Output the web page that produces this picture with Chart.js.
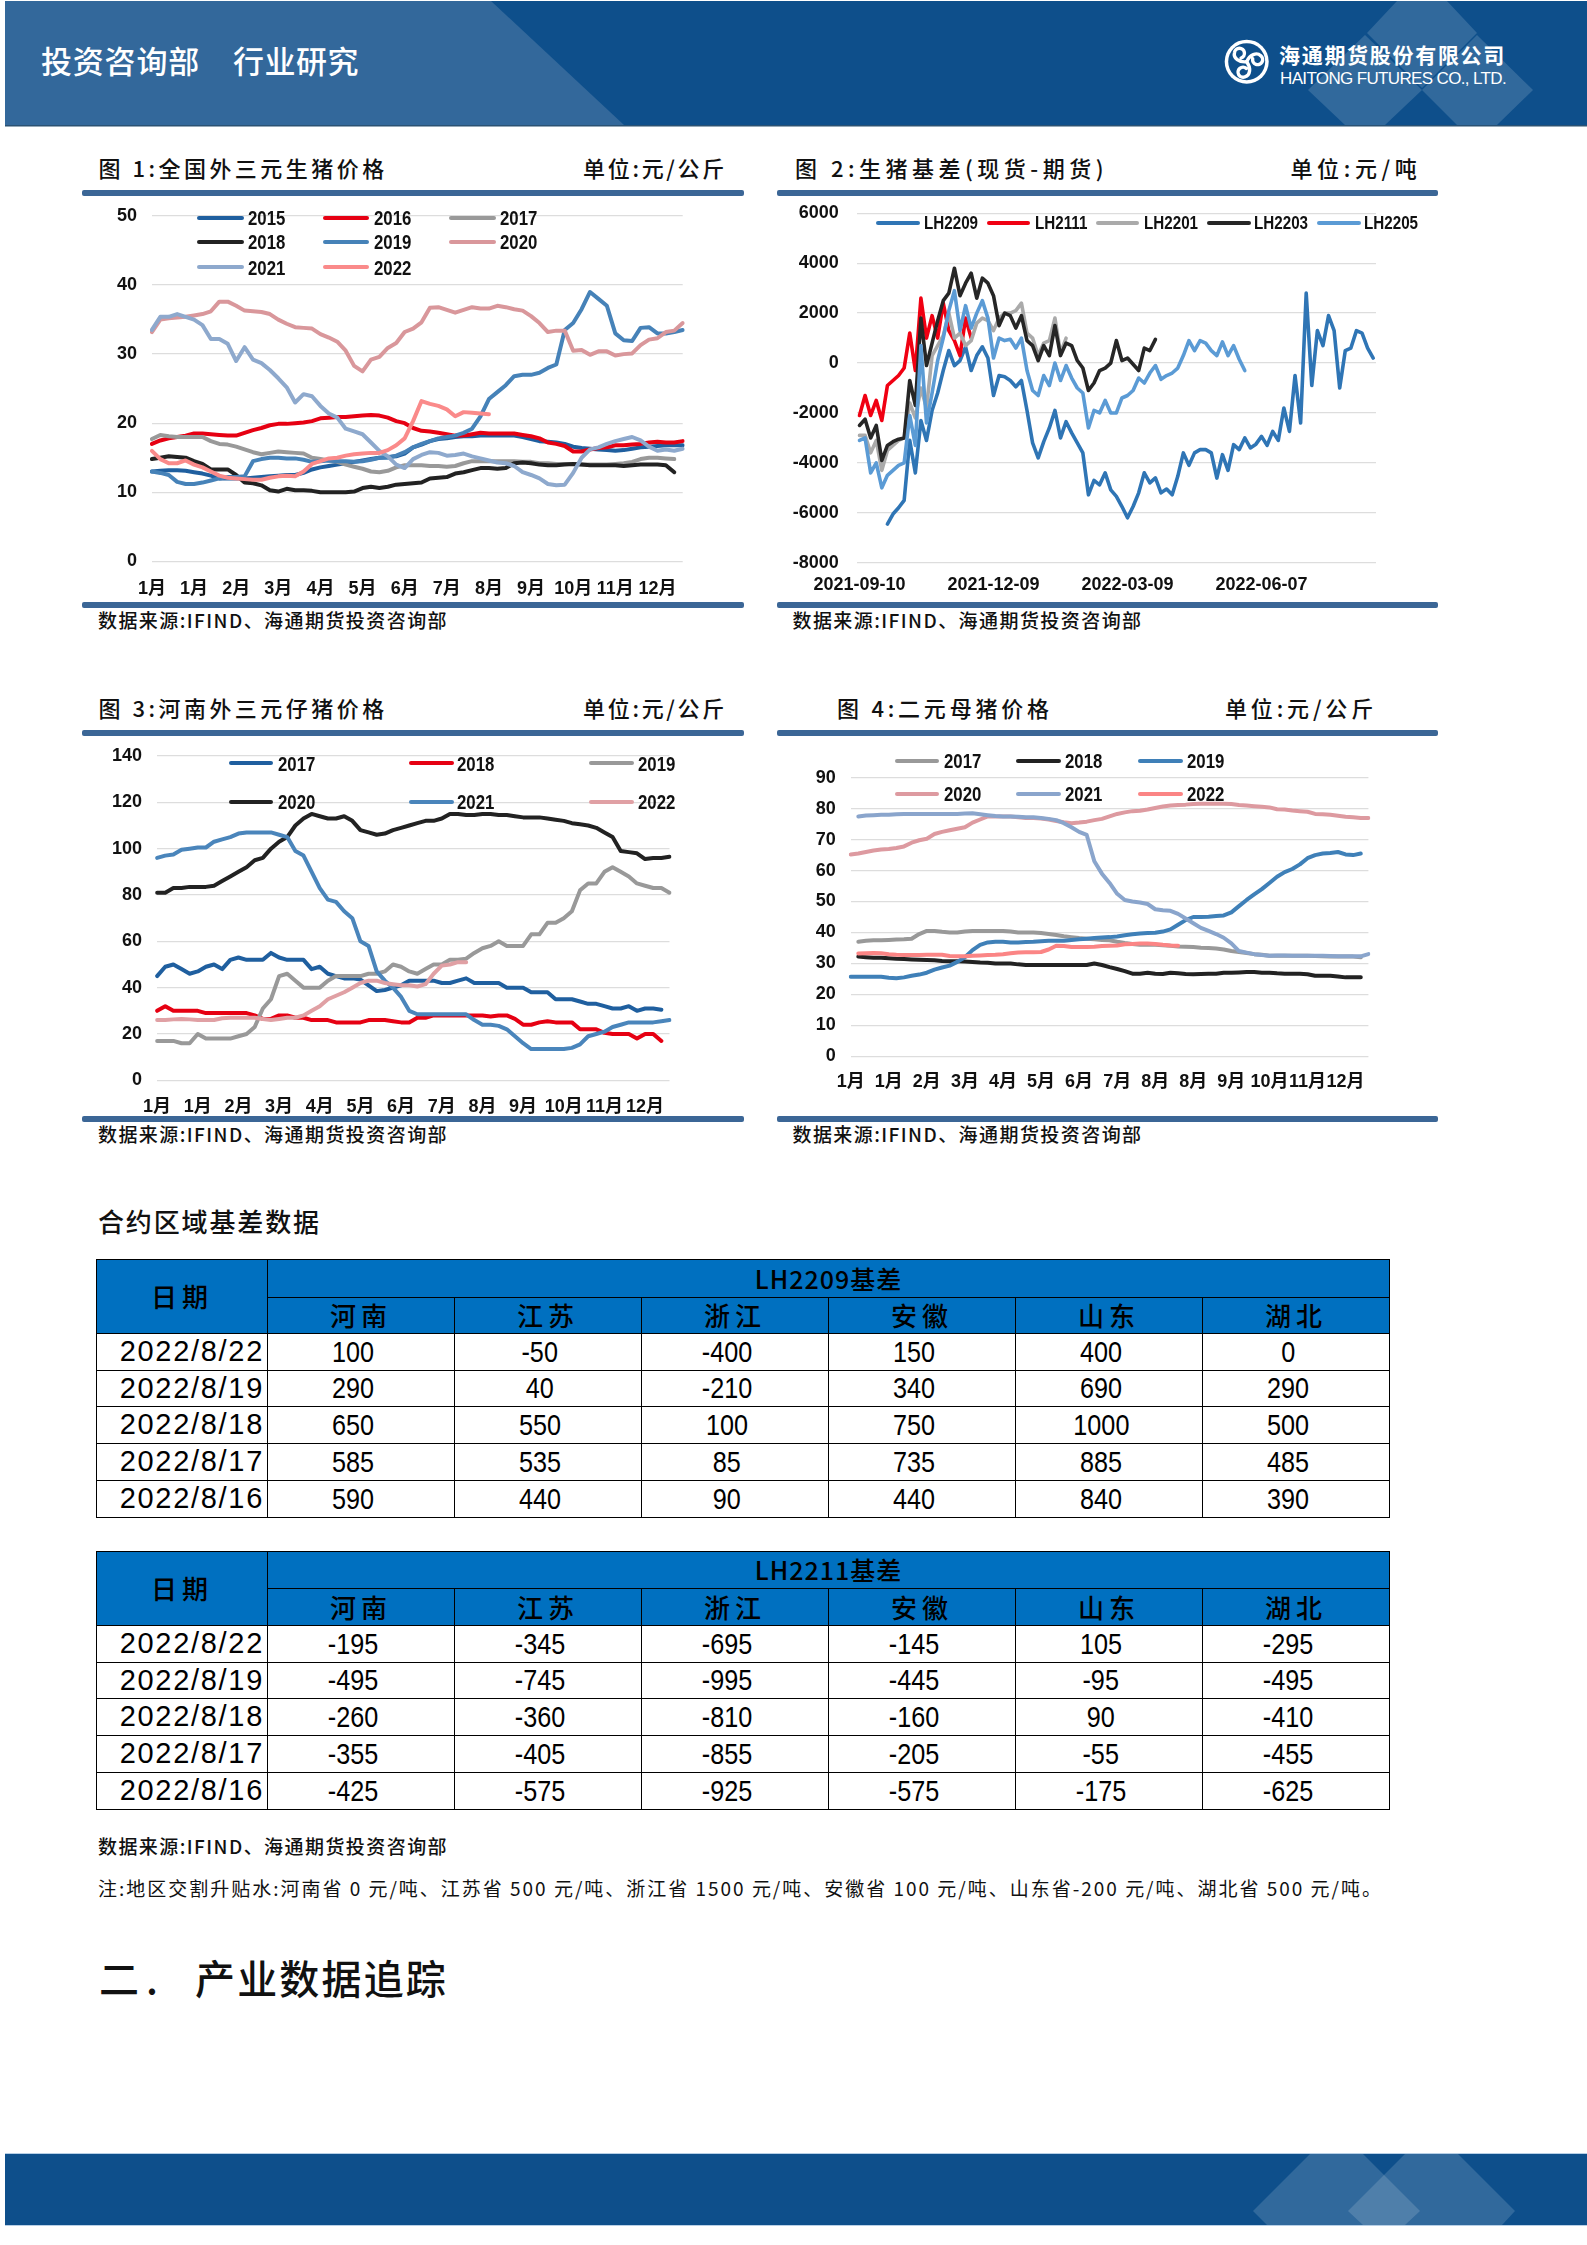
<!DOCTYPE html>
<html>
<head>
<meta charset="utf-8">
<title>行业研究</title>
<script src="https://cdn.jsdelivr.net/npm/chart.js@4"></script>
<style>
html, body { margin: 0; padding: 0; background: #fff; }
#page { position: relative; width: 1587px; height: 2245px; overflow: hidden; font-family: "Noto Sans CJK SC", sans-serif; color: #111; }
#page span.t { position: absolute; white-space: pre; }
#page canvas { position: absolute; }
svg.bg { position: absolute; left: 0; top: 0; }
table.basis { position: absolute; left: 96px; width: 1292px; border-collapse: collapse; table-layout: fixed; color: #000; }
table.basis td { border: 1.5px solid #000; padding: 0; text-align: center; box-sizing: border-box; white-space: nowrap; overflow: hidden; line-height: 1; }
table.basis td.head { background: #0070c0; font-size: 26px; letter-spacing: 5px; font-weight: 500; }
table.basis td.title { background: #0070c0; font-size: 25px; letter-spacing: 1px; font-weight: 500; }
table.basis td.date { font-family: "Liberation Sans", sans-serif; font-size: 29px; letter-spacing: 1.7px; text-align: right; padding: 0 3px 0 0; }
table.basis td.num { font-family: "Liberation Sans", sans-serif; font-size: 30px; padding: 0 16px 0 0; }
table.basis td.num span { display: inline-block; transform: scaleX(0.84); }
</style>
</head>
<body>
<div id="page"></div>
<script>
// ---------- chart 1: 全国外三元生猪价格
const months13 = ['1月','1月','2月','3月','4月','5月','6月','7月','8月','9月','10月','11月','12月'];
const hog2015 = [13.0,13.1,13.2,13.2,13.1,12.9,12.7,12.4,12.0,12.0,
  12.0,12.0,12.1,12.2,12.3,12.4,12.5,12.5,12.8,13.3,
  13.6,13.8,14.0,14.2,14.4,14.6,14.8,15.0,15.1,15.2,
  15.6,16.5,16.9,17.4,17.7,17.8,18.0,18.1,18.1,18.2,
  18.2,18.2,18.2,18.2,18.0,17.7,17.4,17.3,17.2,17.0,
  16.6,16.4,16.3,16.2,16.1,16.0,16.1,16.3,16.5,16.6,
  16.7,16.8,16.8,16.8];
const hog2016 = [17,17.5,17.8,18,18.2,18.5,18.5,18.4,18.3,18.2,
  18.2,18.6,19,19.3,19.7,19.9,19.9,20,20.1,20.3,
  20.7,20.8,20.9,20.9,21,21.1,21.2,21.1,20.8,20.3,
  20,19.3,18.9,18.8,18.6,18.4,18.2,18.2,18.4,18.6,
  18.5,18.5,18.5,18.5,18.3,18.1,17.8,17.2,17,16.7,
  15.9,15.9,16.2,16.4,16.5,16.8,16.8,16.9,17,17.2,
  17.3,17.2,17.2,17.4];
const hog2017 = [17.7,18.3,18.1,18,18,18,18,17.4,17,16.9,
  16.6,16.2,15.8,15.5,15.7,15.9,15.8,15.7,15.6,15,
  14.8,14.6,14.4,14,13.7,13.4,13,12.9,13.1,13.6,
  13.9,13.9,13.9,13.8,13.8,13.7,13.8,14.2,14.5,14.5,
  14.5,14.5,14.5,14.5,14.4,14.4,14.2,14.2,14.1,14.1,
  14.1,14,14,14,14,14.1,14.2,14.4,14.8,15,
  15,14.9,14.8];
const hog2018 = [14.8,15,15.2,15.1,15,14.5,14.1,13.3,13.3,13.3,
  12.5,11.4,11.3,11,10.3,10.1,10.5,10.3,10.3,10.2,
  10,10,10,10,10.1,10.6,10.8,10.6,10.8,11.1,
  11.2,11.3,11.4,12,12.1,12.2,12.7,12.9,13.2,13.5,
  13.5,13.4,13.5,14.2,14.3,14.2,14,13.9,13.9,14,
  14.1,14,13.9,13.9,13.9,13.9,13.8,13.9,14,14,
  14,13.9,12.9];
const hog2019 = [13,12.8,12.5,11.5,11.2,11.2,11.4,11.7,12,12.2,
  12.2,12.3,14.5,14.8,15,15,14.9,14.9,14.7,14.4,
  14.5,14.6,14.5,14.5,14.4,14.5,14.7,15,15,15.3,
  15.8,16.5,17,17.4,17.8,18,18.2,18.6,19.2,21,
  23.5,24.5,25.5,26.8,27,27,27.3,28,28.5,33.5,
  34.5,36.5,39,38,37,33,32,31.9,33.8,33.9,
  33,33,33.2,33.5];
const hog2020 = [33.2,35,35.2,35.3,35.4,35.6,35.8,36.2,37.6,37.6,
  37,36.3,36.2,36.1,35.8,35,34.4,33.9,33.8,33.7,
  32.9,32.4,31.8,30.5,28.3,27.5,29.2,29.6,30.9,31.6,
  33.2,33.7,34.6,36.7,36.8,36.4,36,36.4,36.8,36.6,
  36.6,37,36.8,36.5,36.3,35.5,34.5,33.2,33.4,33.4,
  30.5,30.6,29.9,30.4,30.4,29.8,30,30.1,31.3,32.1,
  32.3,33.2,33.4,34.5];
const hog2021 = [33.5,35.4,35.4,35.8,35.4,35,34.2,32.2,32.2,31.5,
  29,31,29.2,28.7,27.7,26.5,25.2,23,24.2,23.9,
  22.5,21.4,20.8,19.2,18.8,18.4,17.2,16,15.2,14,
  13.5,14.8,15.4,15.8,15.7,15.3,15.4,15.6,15.2,14.9,
  14.6,14.3,14.2,13.8,12.9,12.5,12,11.2,11,11.1,
  12.8,15,16.2,16.5,17,17.4,17.7,18,17.5,16.6,
  16,16.2,16,16.3];
const hog2022 = [16,14.8,14.2,14.2,14.6,14,13.6,13,12.4,12.1,
  12,11.9,11.8,11.8,12.1,12.3,12.4,12.3,13,14.1,
  14.5,14.9,15,15.3,15.5,15.6,15.7,15.7,16.1,16.8,
  17.8,20.3,23.2,22.8,22.5,22,21,21.6,21.5,21.4,
  21.3];

// ---------- chart 2: 生猪基差
const basisDates = ['2021-09-10','2021-12-09','2022-03-09','2022-06-07'];
const lh2209 = [null,null,null,null,null,-6450,-6050,-5800,-5500,-3100,
  -4400,-2300,-3100,-1900,-1200,-300,500,-100,100,650,
  -300,300,650,200,-1300,-500,-550,-700,-950,-700,
  -1900,-3200,-3800,-3150,-2600,-1900,-3000,-2350,-2800,-3200,
  -3600,-5280,-4700,-4880,-4400,-5080,-5340,-5750,-6200,-5750,
  -5200,-4400,-4800,-4600,-5200,-5050,-5280,-4540,-3600,-4100,
  -3600,-3470,-3470,-3600,-4610,-3670,-4300,-3270,-3470,-3000,
  -3400,-3250,-2940,-3300,-2740,-3100,-1800,-2740,-500,-2400,
  2800,-900,1300,700,1900,1300,-1000,500,600,1300,
  1200,600,200];
const lh2111 = [-2100,-1300,-2100,-1500,-2300,-900,-700,-500,-200,1200,
  -300,2600,1000,1900,1000,2400,1300,900,300,1800,1000];
const lh2201 = [-2900,-2900,-3600,-3100,-4300,-3500,-3300,-3100,-3000,-1600,
  -2200,-1000,-1800,300,700,1100,2000,1000,1200,700,
  900,1600,1800,1700,1300,1800,2000,2000,2100,2400,
  1200,1000,300,800,900,1800,400,1000];
const lh2203 = [-2500,-2250,-3000,-2500,-3900,-3300,-3150,-3050,-3000,-700,
  -1700,1800,-100,800,1700,2500,2800,3800,2700,3200,
  3600,2600,3400,3200,2700,1500,2000,1900,1400,1900,
  900,700,100,700,300,1500,300,800,700,100,
  -200,-1100,-800,-300,-200,0,900,100,200,-50,
  -300,600,500,950];
const lh2205 = [-3100,-3000,-4400,-4000,-5000,-4500,-4300,-4100,-4000,-2100,
  -3300,700,-2400,-1200,100,1000,2100,2900,1300,2300,
  1400,2000,2500,1800,200,1000,900,950,600,1000,
  -300,-1100,-1300,-500,-900,0,-700,-100,-600,-1000,
  -1200,-2600,-1900,-2000,-1500,-2000,-2000,-1400,-1300,-1100,
  -600,-800,-400,-100,-650,-500,-400,-200,300,900,
  500,900,800,500,300,850,300,700,150,-300];

// ---------- chart 3: 河南外三元仔猪价格
const piglet2017 = [45,49,50,48,46,47,49,50,48,52,
  53,52,52,52,55,53,52,52,52,48,
  49,46,45,44,44,43.5,41,38.5,39,40,
  41,43,43,43,43,42,42,43,44,42,
  42,42,42,40,40,40,38,38,38,35,
  35,35,34,33,33,32,31,31,32,30,
  31,31,30.5];
const piglet2018 = [30,32,30,30,30,30,29,29,29,29,
  29,29,28,26.5,26.5,28,28,27,27,26,
  26,26,25,25,25,25,26,26,26,25.5,
  25,25,27,27,28,28,28,28,28,28,
  28,27.5,28,28,26.5,24,24,25,25.5,25,
  25,25,22,22,22,20.5,20,20,20,18,
  20,20,17];
const piglet2019 = [17,17,17,16,16,20,18,18,18,18,
  19,20,23,31,35,45,46,43,40,40,
  40,43,45,45,45,45,46,46,47,50,
  49,47,46,48,50,50,52,52,52.5,55,
  57,58,60,58,58,58,63,63,68,68,
  70,73,82,85,85,90,92,90,88,85,
  84,83,83,81];
const piglet2020 = [81,81,83,83,83.5,83.5,83.5,84,86,88,
  90,92,95,96,100,103,105,110,113,115,
  114,113,113,114,112,108,107,106,106.5,108,
  109,110,111,112,112,113,115,115,114.5,114.5,
  115,115,114.5,114.5,114,113.5,113.5,113.5,113,112.5,
  112,111,110.5,110,109,107,105,99,98.5,98,
  95.5,96,96,96.5];
const piglet2021 = [96,97,97.5,99.5,100,100.5,100.5,103,104,105,
  106.5,107,107,107,107,106,105,99,97,90,
  83,78,77,73,70,60,58,47,43,40,
  36,30,28.5,28.5,28.5,28.5,28.5,28.5,28.5,26,
  24,24,23.5,22,19,16,13.5,13.5,13.5,13.5,
  13.5,14,15.5,19,20,21,23,24,25,25,
  25,25,25.5,26];
const piglet2022 = [26,26,26.3,26.5,26.3,26,26,26,26.8,27,
  27,27,27,26.5,26,26.5,27,27,28,30,
  32,35,36.5,38,40,42,43,43,42,41.5,
  41,41,40.5,41.5,46,49.5,50,51,51];

// ---------- chart 4: 二元母猪价格
const months14 = ['1月','1月','2月','3月','4月','5月','6月','7月','8月','8月','9月','10月','11月','12月'];
const sow2017 = [null,37,37.3,37.5,37.5,37.6,37.7,37.8,38,39.5,
  40.5,40.5,40.2,40,40,40.3,40.5,40.5,40.5,40.5,
  40.5,40.3,40,40,40,39.8,39.5,39.2,38.8,38.5,
  38.2,38,37.8,37.6,37.5,37,36.6,36.3,36,36,
  36,35.9,35.7,35.5,35.4,35.3,35.1,35,34.8,34.5,
  34,33.7,33.4,33,32.8,32.5,32.5,32.5,32.5,32.5,
  32.5,32.4,32.3,32.2,32.2,32.2,32.2,32];
const sow2018 = [null,32.2,32,31.8,31.8,31.7,31.5,31.4,31.3,31.2,
  31.1,31,30.8,30.7,30.7,30.6,30.5,30.3,30.2,30,
  30,30,29.7,29.5,29.5,29.5,29.5,29.5,29.5,29.5,
  29.5,29.5,30,29.5,28.8,28.2,27.5,26.7,26.7,27,
  26.7,26.6,27,26.8,26.6,26.5,26.6,26.7,26.7,27,
  27,27.1,27.2,27.2,27,27,26.8,26.7,26.7,26.7,
  26.5,26,26,26,25.8,25.5,25.5,25.5];
const sow2019 = [25.7,25.7,25.7,25.7,25.7,25.4,25.2,25.5,26,26.4,
  27,28,28.7,29.3,30.5,32,34.3,36,36.8,37,
  37,36.8,36.8,36.9,37,37.2,37.3,37.3,37.3,37.6,
  37.8,38,38.2,38.4,38.5,38.7,39.1,39.4,39.7,39.8,
  39.9,40.3,41,42.5,44,45,45,45.1,45.3,45.5,
  46.5,48.5,50.5,52.3,54,56,58,59.5,60.5,62,
  64,65,65.5,65.7,66,65.2,65,65.5];
const sow2020 = [65.2,65.5,66,66.5,66.8,67,67.3,67.8,69,69.8,
  70.3,71.8,72.5,73,73.5,74,75.5,76.5,77.5,77.5,
  77.5,77.5,77.2,77,77,76.8,76.5,76,75.6,75.3,
  75.5,75.8,76.3,76.7,77.5,78.3,78.8,79.2,79.3,79.7,
  80.2,80.7,81,81.2,81.3,81.5,81.6,81.6,81.6,81.6,
  81.5,81.2,81,80.8,80.6,80.4,79.8,79.7,79.4,79.2,
  79,78.3,78.2,78,77.7,77.4,77.2,77,77];
const sow2021 = [null,77.5,77.8,77.9,78,78,78.2,78.3,78.3,78.3,
  78.3,78.3,78.3,78.3,78.3,78.4,78.5,78.2,77.9,77.6,
  77.5,77.5,77.4,77.2,77.2,77,76.7,76.3,75.3,74,
  72.5,71.5,63,59,56,52.5,50.5,50,49.7,49.2,
  47.5,47.2,47,46,44.5,43,41.5,40.5,39.5,38.3,
  36.5,34,33.5,33,32.7,32.5,32.6,32.6,32.5,32.5,
  32.5,32.5,32.5,32.4,32.3,32.3,32.3,32.3,33];
const sow2022 = [null,33.2,33.3,33.4,33.3,33,32.8,32.7,32.7,32.7,
  32.8,32.8,32.8,32.4,32.3,32.3,32.5,32.6,32.7,32.8,
  33,33.3,33.5,33.6,33.6,33.7,34.5,35.7,35.6,35.3,
  35.3,35.3,35.4,35.6,35.7,35.8,36.2,36.3,36.4,36.4,
  36.3,36,35.8,35.7];

// ---------- 合约区域基差表
const provinces = ['河南','江苏','浙江','安徽','山东','湖北'];
const tableDates = ['2022/8/22','2022/8/19','2022/8/18','2022/8/17','2022/8/16'];
const basisLH2209 = [
  [100,-50,-400,150,400,0],
  [290,40,-210,340,690,290],
  [650,550,100,750,1000,500],
  [585,535,85,735,885,485],
  [590,440,90,440,840,390]
];
const basisLH2211 = [
  [-195,-345,-695,-145,105,-295],
  [-495,-745,-995,-445,-95,-495],
  [-260,-360,-810,-160,90,-410],
  [-355,-405,-855,-205,-55,-455],
  [-425,-575,-925,-575,-175,-625]
];

const page = document.getElementById('page');
const TICKFONT = "'Liberation Sans','Noto Sans CJK SC',sans-serif";
const DARK = '#0e4f8b';

// text placed by its centre line; letter spacing stretches it to the measured width
function put(txt, x, cy, w, size, extra) {
  const s = document.createElement('span');
  s.className = 't';
  s.textContent = txt;
  s.style.cssText = `left:${x}px;top:${cy - size * 0.7}px;font-size:${size}px;line-height:${size * 1.4}px;` + (extra || '');
  page.appendChild(s);
  if (w) {
    const gap = (w - s.getBoundingClientRect().width) / txt.length;
    s.style.letterSpacing = gap + 'px';
  }
  return s;
}

function rule(x, y, w, h, color) {
  const d = document.createElement('div');
  d.style.cssText = `position:absolute;left:${x}px;top:${y}px;width:${w}px;height:${h}px;background:${color};border-radius:2px;`;
  page.appendChild(d);
}

// header and footer bands
page.insertAdjacentHTML('beforeend', `
<svg class="bg" width="1587" height="2245">
  <rect x="5" y="1" width="1582" height="124" fill="${DARK}"/>
  <rect x="5" y="125" width="1582" height="1.5" fill="#2b5273"/>
  <polygon points="5,1 491,1 624,125 5,125" fill="#33689b"/>
  <g fill="#fff" fill-opacity="0.15">
    <polygon points="1397,1 1447,1 1477,33 1422,88 1367,33"/>
    <polygon points="1308,90 1365,35 1422,90 1385,125 1345,125"/>
    <polygon points="1477,35 1533,90 1497,125 1457,125 1422,90"/>
  </g>
  <g transform="translate(1246.7,61.7)">
    <circle r="22" fill="#fff"/>
    <circle r="18.5" fill="${DARK}"/>
    <g fill="none" stroke="#fff" stroke-width="3.4" stroke-linecap="round">
      <path id="sw" d="M0,0 C3,-7 10,-10 14,-6 A5,5 0 1 1 6,-3"/>
      <use href="#sw" transform="rotate(120)"/>
      <use href="#sw" transform="rotate(240)"/>
    </g>
  </g>
  <rect x="5" y="2153" width="1582" height="73" fill="#b7cfe6"/>
  <rect x="5" y="2154" width="1582" height="71" fill="${DARK}"/>
  <g fill="#fff" fill-opacity="0.15">
    <polygon points="1310,2154 1363,2154 1420,2211 1405,2225 1267,2225 1253,2211"/>
    <polygon points="1405,2154 1458,2154 1515,2211 1502,2225 1363,2225 1348,2211"/>
  </g>
</svg>`);

put('投资咨询部', 41, 60, 159, 31, 'color:#fff;font-weight:500;');
put('行业研究', 233, 60, 126, 31, 'color:#fff;font-weight:500;');
put('海通期货股份有限公司', 1279, 55, 227, 21, 'color:#fff;font-weight:700;');
put('HAITONG FUTURES CO., LTD.', 1280, 79, 226, 17, "color:#fff;font-family:'Liberation Sans',sans-serif;");

function addChart(box, plot, series, lo, hi, step, opt) {
  const cv = document.createElement('canvas');
  cv.width = box.w; cv.height = box.h;
  cv.style.left = box.x + 'px'; cv.style.top = box.y + 'px';
  cv.style.width = box.w + 'px'; cv.style.height = box.h + 'px';
  page.appendChild(cv);
  const labels = Array.from({ length: opt.count }, (_, i) => i % opt.every === 0 ? (opt.ticks[i / opt.every] || '') : '');
  new Chart(cv.getContext('2d'), {
    type: 'line',
    data: {
      labels: labels,
      datasets: series.map((s, idx) => ({
        label: s.name,
        data: s.data,
        borderColor: s.color,
        borderWidth: opt.lw,
        pointRadius: 0,
        tension: 0,
        spanGaps: false,
        borderCapStyle: 'round',
        borderJoinStyle: 'round',
        order: series.length - idx
      }))
    },
    options: {
      responsive: false,
      animation: false,
      devicePixelRatio: 1,
      layout: { padding: { left: 0, top: plot.t - box.y, right: box.x + box.w - plot.r, bottom: 0 } },
      plugins: { legend: { display: false }, tooltip: { enabled: false } },
      scales: {
        x: {
          type: 'category',
          offset: !!opt.offset,
          grid: { display: false, drawTicks: false },
          border: { display: false },
          afterFit: s => { s.height = box.y + box.h - plot.b; },
          ticks: {
            autoSkip: false, maxRotation: 0, minRotation: 0, padding: opt.xPad, color: '#111',
            font: { family: TICKFONT, size: opt.xSize, weight: 'bold' }
          }
        },
        y: {
          min: lo, max: hi,
          grid: { color: '#dddddd', lineWidth: 1.3, drawTicks: false },
          border: { display: false },
          afterFit: s => { s.width = plot.l - box.x; },
          ticks: {
            stepSize: step, padding: opt.yPad, color: '#111',
            callback: v => String(v),
            font: { family: TICKFONT, size: 18, weight: 'bold' }
          }
        }
      }
    }
  });
}

function legendRow(items, cy, size) {
  items.forEach(it => {
    rule(it.a, cy - 2, it.b - it.a, 4.2, it.color);
    put(it.name, it.tx, cy, 0, size, `font-family:${TICKFONT};font-weight:700;color:#111;transform:scaleX(0.8);transform-origin:left center;`);
  });
}

function panelFrame(x, w, topY, botY) {
  rule(x, topY, w, 5.7, '#3b6696');
  rule(x, botY, w, 5.7, '#3b6696');
}

const TITLE = 'font-weight:500;';

// chart 1
panelFrame(82, 662.3, 190, 602);
put('图 1:全国外三元生猪价格', 98.6, 167, 289, 22, TITLE);
put('单位:元/公斤', 583, 167, 144, 22, TITLE);
const c1 = [
  { name: '2015', data: hog2015, color: '#1f5f9f' },
  { name: '2016', data: hog2016, color: '#e60012' },
  { name: '2017', data: hog2017, color: '#999999' },
  { name: '2018', data: hog2018, color: '#222222' },
  { name: '2019', data: hog2019, color: '#4682b8' },
  { name: '2020', data: hog2020, color: '#d9979b' },
  { name: '2021', data: hog2021, color: '#8ea9cd' },
  { name: '2022', data: hog2022, color: '#fa8a8a' }
];
addChart({ x: 82, y: 160, w: 662, h: 441 }, { l: 151.9, t: 216, r: 682.7, b: 561.3 }, c1, 0, 50, 10,
  { count: 64, every: 5, ticks: months13, lw: 4, xPad: 17, yPad: 15, xSize: 18 });
[[0, 1, 2], [3, 4, 5], [6, 7]].forEach((row, r) => {
  const cols = [[196.8, 243.9, 248], [323, 369, 373.7], [449.4, 496, 500]];
  legendRow(row.map((k, c) => ({ a: cols[c][0], b: cols[c][1], tx: cols[c][2], name: c1[k].name, color: c1[k].color })), [217.7, 242, 267.3][r], 21);
});
put('数据来源:IFIND、海通期货投资咨询部', 98, 620, 350, 19, TITLE);

// chart 2
panelFrame(777, 661, 190, 602);
put('图 2:生猪基差(现货-期货)', 795, 167, 313, 22, TITLE);
put('单位:元/吨', 1290.4, 167, 131, 22, TITLE);
const c2 = [
  { name: 'LH2209', data: lh2209, color: '#2f75b5' },
  { name: 'LH2111', data: lh2111, color: '#f00012' },
  { name: 'LH2201', data: lh2201, color: '#aaaaaa' },
  { name: 'LH2203', data: lh2203, color: '#262626' },
  { name: 'LH2205', data: lh2205, color: '#5b9bd5' }
];
addChart({ x: 777, y: 160, w: 661, h: 441 }, { l: 856.7, t: 213.3, r: 1376, b: 562.7 }, c2, -8000, 6000, 2000,
  { count: 93, every: 24, ticks: basisDates, lw: 3.6, xPad: 12, yPad: 18, xSize: 18, offset: true });
legendRow([[876, 920, 924], [987, 1030, 1034.5], [1096, 1139, 1144], [1207, 1251, 1254], [1317, 1361, 1364]]
  .map((p, k) => ({ a: p[0], b: p[1], tx: p[2], name: c2[k].name, color: c2[k].color })), 223, 19);
put('数据来源:IFIND、海通期货投资咨询部', 792.5, 620, 350, 19, TITLE);

// chart 3
panelFrame(82, 662.3, 730, 1116);
put('图 3:河南外三元仔猪价格', 98.6, 707, 289, 22, TITLE);
put('单位:元/公斤', 583, 707, 144, 22, TITLE);
const c3 = [
  { name: '2017', data: piglet2017, color: '#1f5f9f' },
  { name: '2018', data: piglet2018, color: '#e60012' },
  { name: '2019', data: piglet2019, color: '#999999' },
  { name: '2020', data: piglet2020, color: '#222222' },
  { name: '2021', data: piglet2021, color: '#4a85bb' },
  { name: '2022', data: piglet2022, color: '#e0a0a4' }
];
addChart({ x: 82, y: 700, w: 662, h: 415 }, { l: 157.1, t: 756, r: 669.5, b: 1080.3 }, c3, 0, 140, 20,
  { count: 64, every: 5, ticks: months13, lw: 4, xPad: 16, yPad: 15, xSize: 18 });
[[0, 1, 2], [3, 4, 5]].forEach((row, r) => {
  const cols = [[228.5, 273.3, 277.8], [409, 453.8, 457.3], [589.4, 634.3, 637.8]];
  legendRow(row.map((k, c) => ({ a: cols[c][0], b: cols[c][1], tx: cols[c][2], name: c3[k].name, color: c3[k].color })), [763.3, 801.7][r], 21);
});
put('数据来源:IFIND、海通期货投资咨询部', 98, 1134, 350, 19, TITLE);

// chart 4
panelFrame(777, 661, 730, 1116);
put('图 4:二元母猪价格', 837, 707, 215.7, 22, TITLE);
put('单位:元/公斤', 1225, 707, 152, 22, TITLE);
const c4 = [
  { name: '2017', data: sow2017, color: '#999999' },
  { name: '2018', data: sow2018, color: '#222222' },
  { name: '2019', data: sow2019, color: '#3f80b8' },
  { name: '2020', data: sow2020, color: '#dd9aa0' },
  { name: '2021', data: sow2021, color: '#8aa5cc' },
  { name: '2022', data: sow2022, color: '#fb8585' }
];
addChart({ x: 777, y: 720, w: 661, h: 395 }, { l: 850.7, t: 777.7, r: 1368.4, b: 1056.3 }, c4, 0, 90, 10,
  { count: 69, every: 5, ticks: months14, lw: 4, xPad: 15, yPad: 15, xSize: 18 });
[[0, 1, 2], [3, 4, 5]].forEach((row, r) => {
  const cols = [[895, 939, 944], [1016, 1060.5, 1065], [1137.7, 1182.8, 1187]];
  legendRow(row.map((k, c) => ({ a: cols[c][0], b: cols[c][1], tx: cols[c][2], name: c4[k].name, color: c4[k].color })), [761, 794][r], 21);
});
put('数据来源:IFIND、海通期货投资咨询部', 792.5, 1134, 350, 19, TITLE);

// tables
put('合约区域基差数据', 98, 1221.5, 223, 26, TITLE);

function basisTable(top, title, rows, heights) {
  let html = `<table class="basis" style="top:${top}px"><colgroup><col style="width:171px">`;
  provinces.forEach(() => { html += '<col style="width:187px">'; });
  html += '</colgroup>';
  html += `<tr style="height:${heights[0]}px"><td class="head" rowspan="2">日期</td><td class="title" colspan="6">${title}基差</td></tr>`;
  html += `<tr style="height:${heights[1]}px">` + provinces.map(p => `<td class="head">${p}</td>`).join('') + '</tr>';
  rows.forEach((r, i) => {
    html += `<tr style="height:${heights[i + 2]}px"><td class="date">${tableDates[i]}</td>` + r.map(v => `<td class="num"><span>${v}</span></td>`).join('') + '</tr>';
  });
  page.insertAdjacentHTML('beforeend', html + '</table>');
}
basisTable(1259, 'LH2209', basisLH2209, [37.7, 36.3, 37, 36, 37, 37, 37]);
basisTable(1551, 'LH2211', basisLH2211, [36.5, 37, 37, 36, 37, 37, 37]);

put('数据来源:IFIND、海通期货投资咨询部', 98, 1846, 350, 19, TITLE);
put('注:地区交割升贴水:河南省 0 元/吨、江苏省 500 元/吨、浙江省 1500 元/吨、安徽省 100 元/吨、山东省-200 元/吨、湖北省 500 元/吨。', 98, 1888, 1285, 19);
put('二.', 99, 1976.5, 66, 40, TITLE);
put('产业数据追踪', 195, 1976.5, 253, 40, TITLE);
</script>
</body>
</html>
